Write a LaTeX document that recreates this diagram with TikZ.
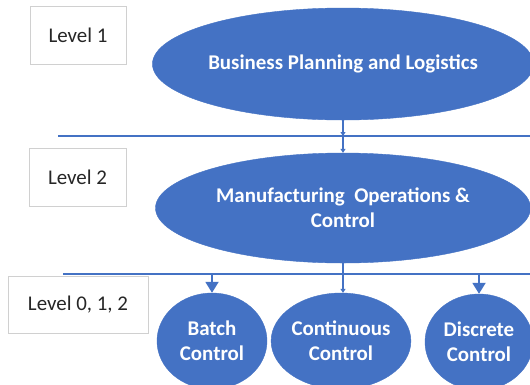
\documentclass[tikz,border=0pt]{standalone}
\usepackage{fontspec}
\setmainfont{Carlito}
\usetikzlibrary{shapes.geometric,arrows.meta}
\definecolor{obl}{HTML}{4472C4}
\definecolor{boxgray}{HTML}{D0D0D0}
\tikzset{
  lvl/.style={draw=boxgray, line width=0.8pt, fill=white, inner sep=0pt, font=\fontsize{21}{24}\selectfont, text=black!85},
  bubble/.style={ellipse, fill=obl, draw=obl, inner sep=0pt, text=white, align=center, font=\bfseries\fontsize{21}{25}\selectfont},
  bus/.style={draw=obl, line width=2.8pt},
  conn/.style={draw=obl, line width=2pt},
  tip/.style={-{Triangle[width=13pt,length=11pt]}},
  smalltip/.style={-{Triangle[width=5pt,length=4pt]}},
}
\begin{document}
\begin{tikzpicture}[x=1bp,y=-1bp]
\useasboundingbox (0,0) rectangle (530,384);
\clip (0,0) rectangle (530,384);
\fill[white] (0,0) rectangle (530,384);
% level boxes
\node[lvl, minimum width=96bp, minimum height=58bp] (l1) at (78,35) {Level 1};
\node[lvl, minimum width=97bp, minimum height=58bp] (l2) at (77.5,177) {Level 2};
% buses
\coordinate (b1l) at (58,136);
\coordinate (b1r) at (531,136);
\coordinate (b2l) at (63,274);
\coordinate (b2r) at (531,274);
\draw[bus] (b1l) -- (b1r);
\draw[bus] (b2l) -- (b2r);
\node[lvl, minimum width=140bp, minimum height=57bp] (l0) at (78,304.5) {Level 0, 1, 2};
% ellipses
\node[bubble, minimum width=375bp, minimum height=112bp] (e1) at (343,64) {Business Planning and Logistics};
\node[bubble, minimum width=375bp, minimum height=110bp] (e2) at (343,208) {Manufacturing\ \ Operations \&\\Control};
\node[bubble, minimum width=110bp, minimum height=96bp] (bc) at (212,341) {Batch\\Control};
\node[bubble, minimum width=137bp, minimum height=96bp] (cc) at (341,341) {Continuous\\Control};
\node[bubble, minimum width=108bp, minimum height=96bp] (dc) at (479,342) {Discrete\\Control};
% connectors
\coordinate (j1) at (343,136);
\coordinate (j2) at (343,274);
\coordinate (ja) at (212,274);
\coordinate (jd) at (479,274);
\draw[conn, smalltip] (e1.south) -- (j1);
\draw[conn, smalltip] (j1) -- (e2.north);
\draw[conn] (e2.south) -- (j2);
\draw[conn, smalltip] (j2) -- (j2 |- cc.north);
\draw[conn, tip] (ja) -- (ja |- bc.north);
\draw[conn, tip] (jd) -- (jd |- dc.north);
\end{tikzpicture}
\end{document}
